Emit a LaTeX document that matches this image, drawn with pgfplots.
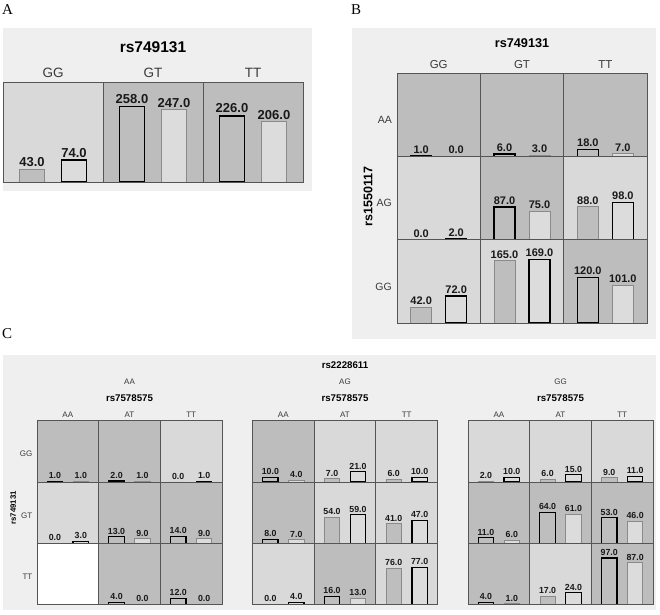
\documentclass[border=0pt]{standalone}
\usepackage{pgfplots}
\pgfplotsset{compat=1.18}
\usepackage{fontspec}
\setmainfont{Liberation Sans}
\newfontfamily\serifA{Liberation Serif}

\definecolor{panelbg}{HTML}{EFEFEF}
\definecolor{celldark}{HTML}{BDBDBD}
\definecolor{celllight}{HTML}{D9D9D9}
\definecolor{barone}{HTML}{BEBEBE}
\definecolor{bartwo}{HTML}{DCDCDC}
\definecolor{thinline}{HTML}{8A8A8A}
\definecolor{gridline}{HTML}{555555}
\definecolor{labeltext}{HTML}{3A3A3A}

\newcommand{\fs}[1]{\fontsize{#1}{#1}\selectfont}
\def\tkw{1.5pt}

\pgfplotsset{
  cellbase/.style={
    scale only axis, anchor=south west, clip=false, axis on top,
    xmin=0, xmax=1, ymin=0,
    xtick=\empty, ytick=\empty,
    axis line style={draw=gridline, line width=0.7pt},
    ybar, bar width=0.25, bar shift=0pt,
    nodes near coords={\pgfmathprintnumber[fixed,fixed zerofill,precision=1,assume math mode=true]{\pgfplotspointmeta}},
    every node near coord/.append style={inner sep=2pt, text=black!90},
  },
  pA/.style={width=100pt, height=100pt, ymax=341,
    every node near coord/.append style={font=\bfseries\fs{13}}},
  pB/.style={width=83.33pt, height=83.33pt, ymax=221,
    every node near coord/.append style={font=\bfseries\fs{11}}},
  pC/.style={width=61.67pt, height=61.2pt, ymax=128,
    every node near coord/.append style={font=\bfseries\fs{8.8}}},
  b1/.style={fill=barone},
  b2/.style={fill=bartwo},
  tk/.style={draw=black, line width=\tkw},
  tn/.style={draw=thinline, line width=0.7pt},
}
\tikzset{lab/.style={text=labeltext}}

% panel style, x, y (bottom left, pt), cell colour, value 1, value 2, outline 1, outline 2
\newcommand{\cell}[8]{%
  \begin{axis}[cellbase, #1, at={(#2pt,#3pt)}, axis background/.style={fill=#4}]
    \addplot[b1, #7] coordinates {(0.29,#5)};
    \addplot[b2, #8] coordinates {(0.71,#6)};
  \end{axis}}

\begin{document}
\begin{tikzpicture}
\path[use as bounding box] (0pt,0pt) rectangle (660pt,614pt);
\fill[white] (0pt,0pt) rectangle (660pt,614pt);

% panel backgrounds
\fill[panelbg] (3pt,423pt) rectangle (312pt,586pt);
\fill[panelbg] (352pt,275pt) rectangle (656pt,586pt);
\fill[panelbg] (3pt,4pt) rectangle (656pt,259pt);

% panel letters
\node[anchor=base west, inner sep=0pt, font=\serifA\fs{15}] at (2pt,599pt) {A};
\node[anchor=base west, inner sep=0pt, font=\serifA\fs{15}] at (351pt,599pt) {B};
\node[anchor=base west, inner sep=0pt, font=\serifA\fs{15}] at (2pt,276pt) {C};

% ---------- A ----------
\def\tkw{1.6pt}
\node[font=\bfseries\fs{15.5}] at (153pt,567pt) {rs749131};
\node[lab, font=\fs{13.5}] at (53pt,541pt) {GG};
\node[lab, font=\fs{13.5}] at (153pt,541pt) {GT};
\node[lab, font=\fs{13.5}] at (253pt,541pt) {TT};
\cell{pA}{3}{432}{celllight}{43}{74}{tn}{tk}
\cell{pA}{103}{432}{celldark}{258}{247}{tk}{tn}
\cell{pA}{203}{432}{celldark}{226}{206}{tk}{tn}

% ---------- B ----------
\def\tkw{1.4pt}
\node[font=\bfseries\fs{12.7}] at (522pt,571pt) {rs749131};
\node[lab, font=\fs{11.5}] at (438.7pt,549pt) {GG};
\node[lab, font=\fs{11.5}] at (522pt,549pt) {GT};
\node[lab, font=\fs{11.5}] at (605.3pt,549pt) {TT};
\node[lab, anchor=east, inner sep=1pt, font=\fs{10.5}] at (393pt,494pt) {AA};
\node[lab, anchor=east, inner sep=1pt, font=\fs{10.5}] at (393pt,410.7pt) {AG};
\node[lab, anchor=east, inner sep=1pt, font=\fs{10.5}] at (393pt,327.3pt) {GG};
\node[rotate=90, inner sep=0pt, font=\bfseries\fs{12.5}] at (368pt,417.3pt) {rs1550117};
% row AA
\cell{pB}{397}{457.67}{celldark}{1}{0}{tk}{tn}
\cell{pB}{480.33}{457.67}{celldark}{6}{3}{tk}{tn}
\cell{pB}{563.67}{457.67}{celldark}{18}{7}{tk}{tn}
% row AG
\cell{pB}{397}{374.33}{celllight}{0}{2}{tn}{tk}
\cell{pB}{480.33}{374.33}{celldark}{87}{75}{tk}{tn}
\cell{pB}{563.67}{374.33}{celllight}{88}{98}{tn}{tk}
% row GG
\cell{pB}{397}{291}{celllight}{42}{72}{tn}{tk}
\cell{pB}{480.33}{291}{celllight}{165}{169}{tn}{tk}
\cell{pB}{563.67}{291}{celldark}{120}{101}{tk}{tn}

% ---------- C ----------
\def\tkw{1.2pt}
\node[font=\bfseries\fs{9.7}] at (345pt,249pt) {rs2228611};
\foreach \gx/\gl in {129.5/AA, 345/AG, 560.5/GG} {
  \node[lab, font=\fs{8}] at (\gx pt,232.3pt) {\gl};
  \node[font=\bfseries\fs{9.7}] at (\gx pt,215.7pt) {rs7578575};
  \node[lab, font=\fs{8}] at (\gx pt-61.67pt,199.7pt) {AA};
  \node[lab, font=\fs{8}] at (\gx pt,199.7pt) {AT};
  \node[lab, font=\fs{8}] at (\gx pt+61.67pt,199.7pt) {TT};
}
\node[lab, anchor=east, inner sep=1pt, font=\fs{8}] at (33.5pt,160pt) {GG};
\node[lab, anchor=east, inner sep=1pt, font=\fs{8}] at (33.5pt,98pt) {GT};
\node[lab, anchor=east, inner sep=1pt, font=\fs{8}] at (33.5pt,37pt) {TT};
\node[rotate=90, inner sep=0pt, font=\bfseries\fs{7.8}] at (13.3pt,106pt) {rs749131};

% rs2228611 = AA
\cell{pC}{37}{132.1}{celldark}{1}{1}{tk}{tn}
\cell{pC}{98.67}{132.1}{celldark}{2}{1}{tk}{tn}
\cell{pC}{160.33}{132.1}{celllight}{0}{1}{tn}{tk}
\cell{pC}{37}{70.9}{celllight}{0}{3}{tn}{tk}
\cell{pC}{98.67}{70.9}{celldark}{13}{9}{tk}{tn}
\cell{pC}{160.33}{70.9}{celldark}{14}{9}{tk}{tn}
\begin{axis}[cellbase, pC, at={(37pt,9.7pt)}, axis background/.style={fill=white}]
\end{axis}
\cell{pC}{98.67}{9.7}{celldark}{4}{0}{tk}{tn}
\cell{pC}{160.33}{9.7}{celldark}{12}{0}{tk}{tn}

% rs2228611 = AG
\cell{pC}{252.5}{132.1}{celldark}{10}{4}{tk}{tn}
\cell{pC}{314.17}{132.1}{celllight}{7}{21}{tn}{tk}
\cell{pC}{375.83}{132.1}{celllight}{6}{10}{tn}{tk}
\cell{pC}{252.5}{70.9}{celldark}{8}{7}{tk}{tn}
\cell{pC}{314.17}{70.9}{celllight}{54}{59}{tn}{tk}
\cell{pC}{375.83}{70.9}{celllight}{41}{47}{tn}{tk}
\cell{pC}{252.5}{9.7}{celllight}{0}{4}{tn}{tk}
\cell{pC}{314.17}{9.7}{celldark}{16}{13}{tk}{tn}
\cell{pC}{375.83}{9.7}{celllight}{76}{77}{tn}{tk}

% rs2228611 = GG
\cell{pC}{468}{132.1}{celllight}{2}{10}{tn}{tk}
\cell{pC}{529.67}{132.1}{celllight}{6}{15}{tn}{tk}
\cell{pC}{591.33}{132.1}{celllight}{9}{11}{tn}{tk}
\cell{pC}{468}{70.9}{celldark}{11}{6}{tk}{tn}
\cell{pC}{529.67}{70.9}{celldark}{64}{61}{tk}{tn}
\cell{pC}{591.33}{70.9}{celldark}{53}{46}{tk}{tn}
\cell{pC}{468}{9.7}{celldark}{4}{1}{tk}{tn}
\cell{pC}{529.67}{9.7}{celllight}{17}{24}{tn}{tk}
\cell{pC}{591.33}{9.7}{celldark}{97}{87}{tk}{tn}
\end{tikzpicture}
\end{document}
